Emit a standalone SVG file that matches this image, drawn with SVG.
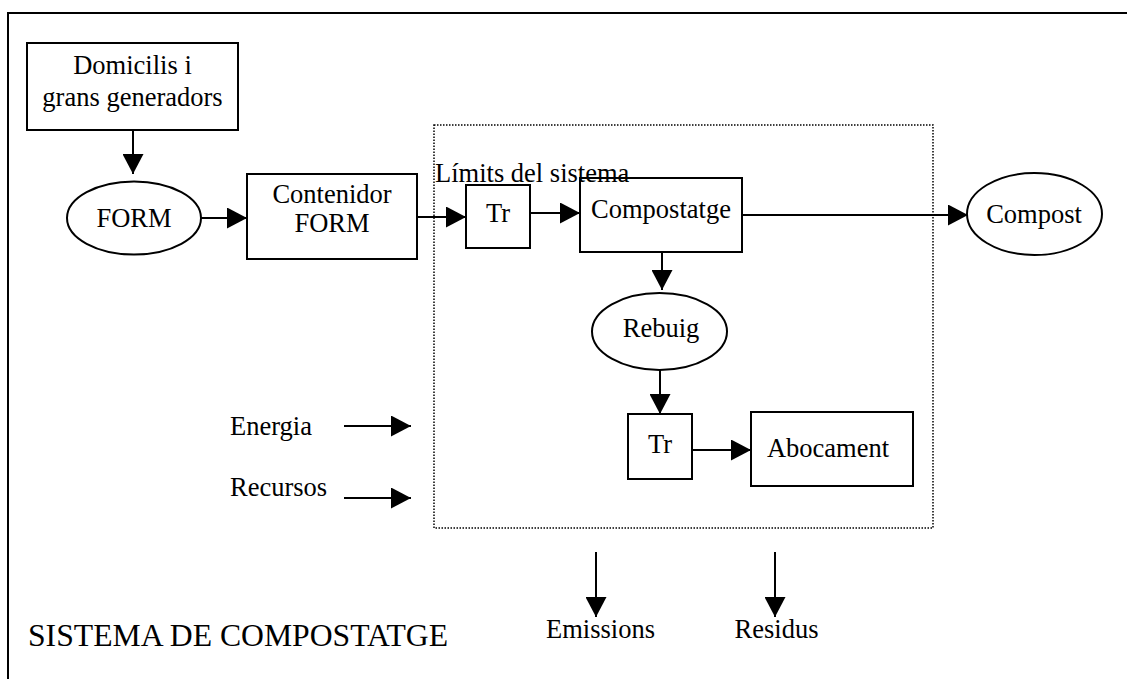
<svg xmlns="http://www.w3.org/2000/svg" width="1127" height="679" viewBox="0 0 1127 679">
<defs>
<marker id="ah" markerUnits="userSpaceOnUse" markerWidth="20" markerHeight="21" refX="20" refY="10.5" orient="auto">
<path d="M0,0 L20,10.5 L0,21 z" fill="#000"/>
</marker>
<style>
.t{font-family:"Liberation Serif","Times New Roman",serif;font-size:26.5px;fill:#000}
.m{text-anchor:middle}
.b{fill:#fff;stroke:#000;stroke-width:2}
.c{fill:none;stroke:#000;stroke-width:2;marker-end:url(#ah)}
</style>
</defs>
<rect width="1127" height="679" fill="#fff"/>
<path d="M8,679 V13 H1127" fill="none" stroke="#000" stroke-width="2"/>
<g id="boundary">
<rect x="434" y="125" width="499" height="403" fill="none" stroke="#000" stroke-width="1.5" stroke-dasharray="1.5 1.5"/>
</g>
<g id="connectors">
<path class="c" d="M133,130 V174"/>
<path class="c" d="M201,218 H247"/>
<path class="c" d="M417,217 H466"/>
<path class="c" d="M530,213 H580"/>
<path class="c" d="M742,215 H968"/>
<path class="c" d="M662,252 V290"/>
<path class="c" d="M660,370 V414"/>
<path class="c" d="M692,450 H751"/>
<path class="c" d="M344,426 H411"/>
<path class="c" d="M344,498 H411"/>
<path class="c" d="M596,552 V617"/>
<path class="c" d="M775,552 V617"/>
</g>
<g id="domicilis">
<rect class="b" x="27" y="43" width="211" height="87"/>
<text class="t m" x="132.5" y="74">Domicilis i</text>
<text class="t m" x="132.5" y="106">grans generadors</text>
</g>
<g id="form">
<ellipse class="b" cx="134" cy="218" rx="67" ry="36.5"/>
<text class="t m" x="134" y="227">FORM</text>
</g>
<g id="contenidor">
<rect class="b" x="247" y="174" width="170" height="85"/>
<text class="t m" x="332" y="203">Contenidor</text>
<text class="t m" x="332" y="232">FORM</text>
</g>
<g id="limits">
<text class="t" x="435" y="182">Límits del sistema</text>
</g>
<g id="tr1">
<rect class="b" x="466" y="185" width="64" height="63"/>
<text class="t m" x="498" y="222">Tr</text>
</g>
<g id="compostatge">
<rect class="b" x="580" y="178" width="162" height="74" fill-opacity="0"/>
<text class="t m" x="661" y="218">Compostatge</text>
</g>
<g id="compost">
<ellipse class="b" cx="1034.5" cy="214" rx="67.5" ry="41"/>
<text class="t m" x="1034" y="223">Compost</text>
</g>
<g id="rebuig">
<ellipse class="b" cx="659.5" cy="331.5" rx="67.5" ry="38.5"/>
<text class="t m" x="661" y="337">Rebuig</text>
</g>
<g id="tr2">
<rect class="b" x="628" y="414" width="64" height="65"/>
<text class="t m" x="660" y="453">Tr</text>
</g>
<g id="abocament">
<rect class="b" x="751" y="412" width="162" height="74"/>
<text class="t m" x="828" y="457">Abocament</text>
</g>
<g id="energia"><text class="t" x="230" y="435">Energia</text></g>
<g id="recursos"><text class="t" x="230" y="496">Recursos</text></g>
<g id="emissions"><text class="t m" x="600.5" y="638">Emissions</text></g>
<g id="residus"><text class="t m" x="776.5" y="638">Residus</text></g>
<g id="title"><text class="t" x="28" y="646" style="font-size:31.7px">SISTEMA DE COMPOSTATGE</text></g>
</svg>
